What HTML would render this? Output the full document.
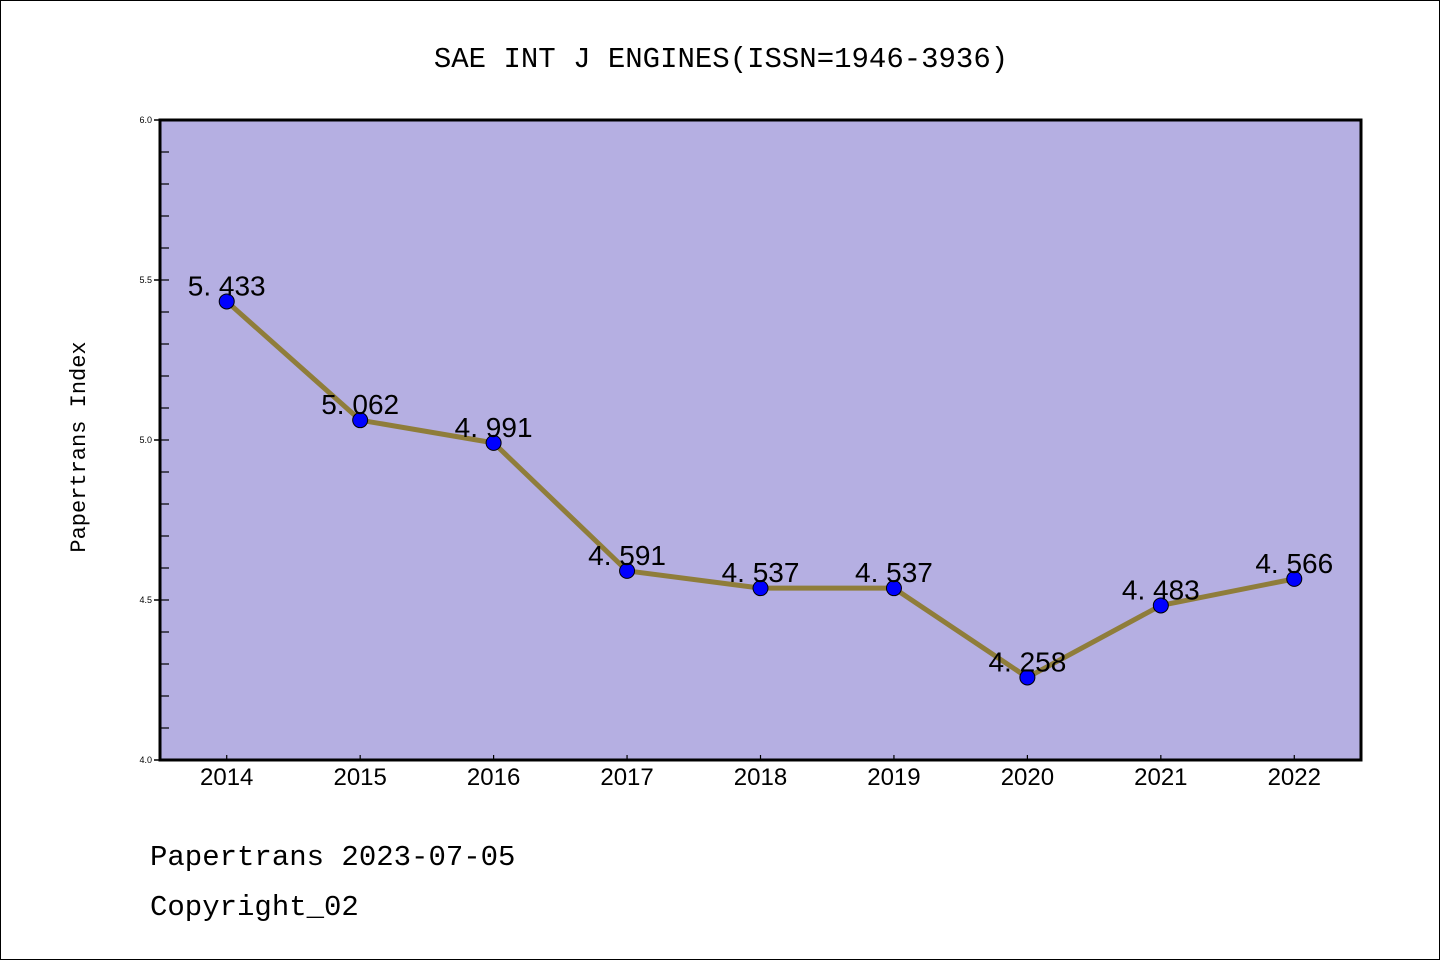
<!DOCTYPE html>
<html><head><meta charset="utf-8"><style>
html,body{margin:0;padding:0;background:#fff;}
#wrap{position:relative;width:1438px;height:958px;border:1px solid #000;overflow:hidden;}
svg text{font-family:"Liberation Sans","WenQuanYi Zen Hei",sans-serif;}
.mono{font-family:"WenQuanYi Zen Hei","Liberation Mono",monospace !important;}
</style></head><body>
<div id="wrap">
<svg id="chart" width="1438" height="958" xmlns="http://www.w3.org/2000/svg">
<text class="mono" x="720" y="66" font-size="29" text-anchor="middle">SAE INT J ENGINES(ISSN=1946-3936)</text>
<rect x="159" y="119" width="1201" height="640" fill="#b5afe2"/>
<g id="axes"></g>
<g id="series"></g>
<rect x="159" y="119" width="1201" height="640" fill="none" stroke="#000" stroke-width="3"/>
<text class="mono" x="0" y="0" font-size="22" text-anchor="middle" transform="translate(84,446) rotate(-90)">Papertrans Index</text>
<text class="mono" x="149" y="864" font-size="29">Papertrans 2023-07-05</text>
<text class="mono" x="149" y="914" font-size="29">Copyright_02</text>
</svg></div>
<script>
const categories=["2014","2015","2016","2017","2018","2019","2020","2021","2022"];
const values=[5.433,5.062,4.991,4.591,4.537,4.537,4.258,4.483,4.566];
const yTicks=["4.0","4.5","5.0","5.5","6.0"];
const NS="http://www.w3.org/2000/svg";
const L=159,R=1360,T=119,B=759,yMin=4,yMax=6;
const step=(R-L)/categories.length;
const xs=i=>L+step*(i+0.5);
const ys=v=>B-(v-yMin)/(yMax-yMin)*(B-T);
function mk(tag,attrs,parent){const e=document.createElementNS(NS,tag);for(const k in attrs)e.setAttribute(k,attrs[k]);parent.appendChild(e);return e;}
const ax=document.getElementById('axes'),se=document.getElementById('series');
yTicks.forEach(t=>{const y=ys(parseFloat(t));
 const l=mk('line',{x1:L-6,x2:L,y1:y,y2:y,stroke:'#000','stroke-width':1.5},ax);
 
 
 const tx=mk('text',{x:L-8,y:y+3,'font-size':9,'text-anchor':'end'},ax);tx.textContent=t;
 
 
});
for(let v=yMin+0.1;v<yMax-0.05;v+=0.1){const y=ys(v);
 const l=mk('line',{x1:L,x2:L+9,y1:y,y2:y,stroke:'#000','stroke-width':1.2},ax);
 
 
}
categories.forEach((c,i)=>{const x=xs(i);
 const l=mk('line',{x1:x,x2:x,y1:B-5,y2:B,stroke:'#000','stroke-width':1.2},ax);
 
 
 const tx=mk('text',{x:x,y:B+25,'font-size':24,'text-anchor':'middle'},ax);tx.textContent=c;
 
 
});
const pts=values.map((v,i)=>xs(i)+','+ys(v)).join(' ');
const pl=mk('polyline',{points:pts,fill:'none',stroke:'#8f7d3a','stroke-width':5,'stroke-linejoin':'round'},se);


values.forEach((v,i)=>{const x=xs(i),y=ys(v);
 const c=mk('circle',{cx:x,cy:y,r:7.5,fill:'#0000ff',stroke:'#000','stroke-width':1},se);
 
 
 const s=v.toFixed(3);const tx=mk('text',{x:x,y:y-6,'font-size':28,'text-anchor':'middle'},se);
 tx.textContent=s.replace('.','. ');
 
 
});
</script>
</body></html>
